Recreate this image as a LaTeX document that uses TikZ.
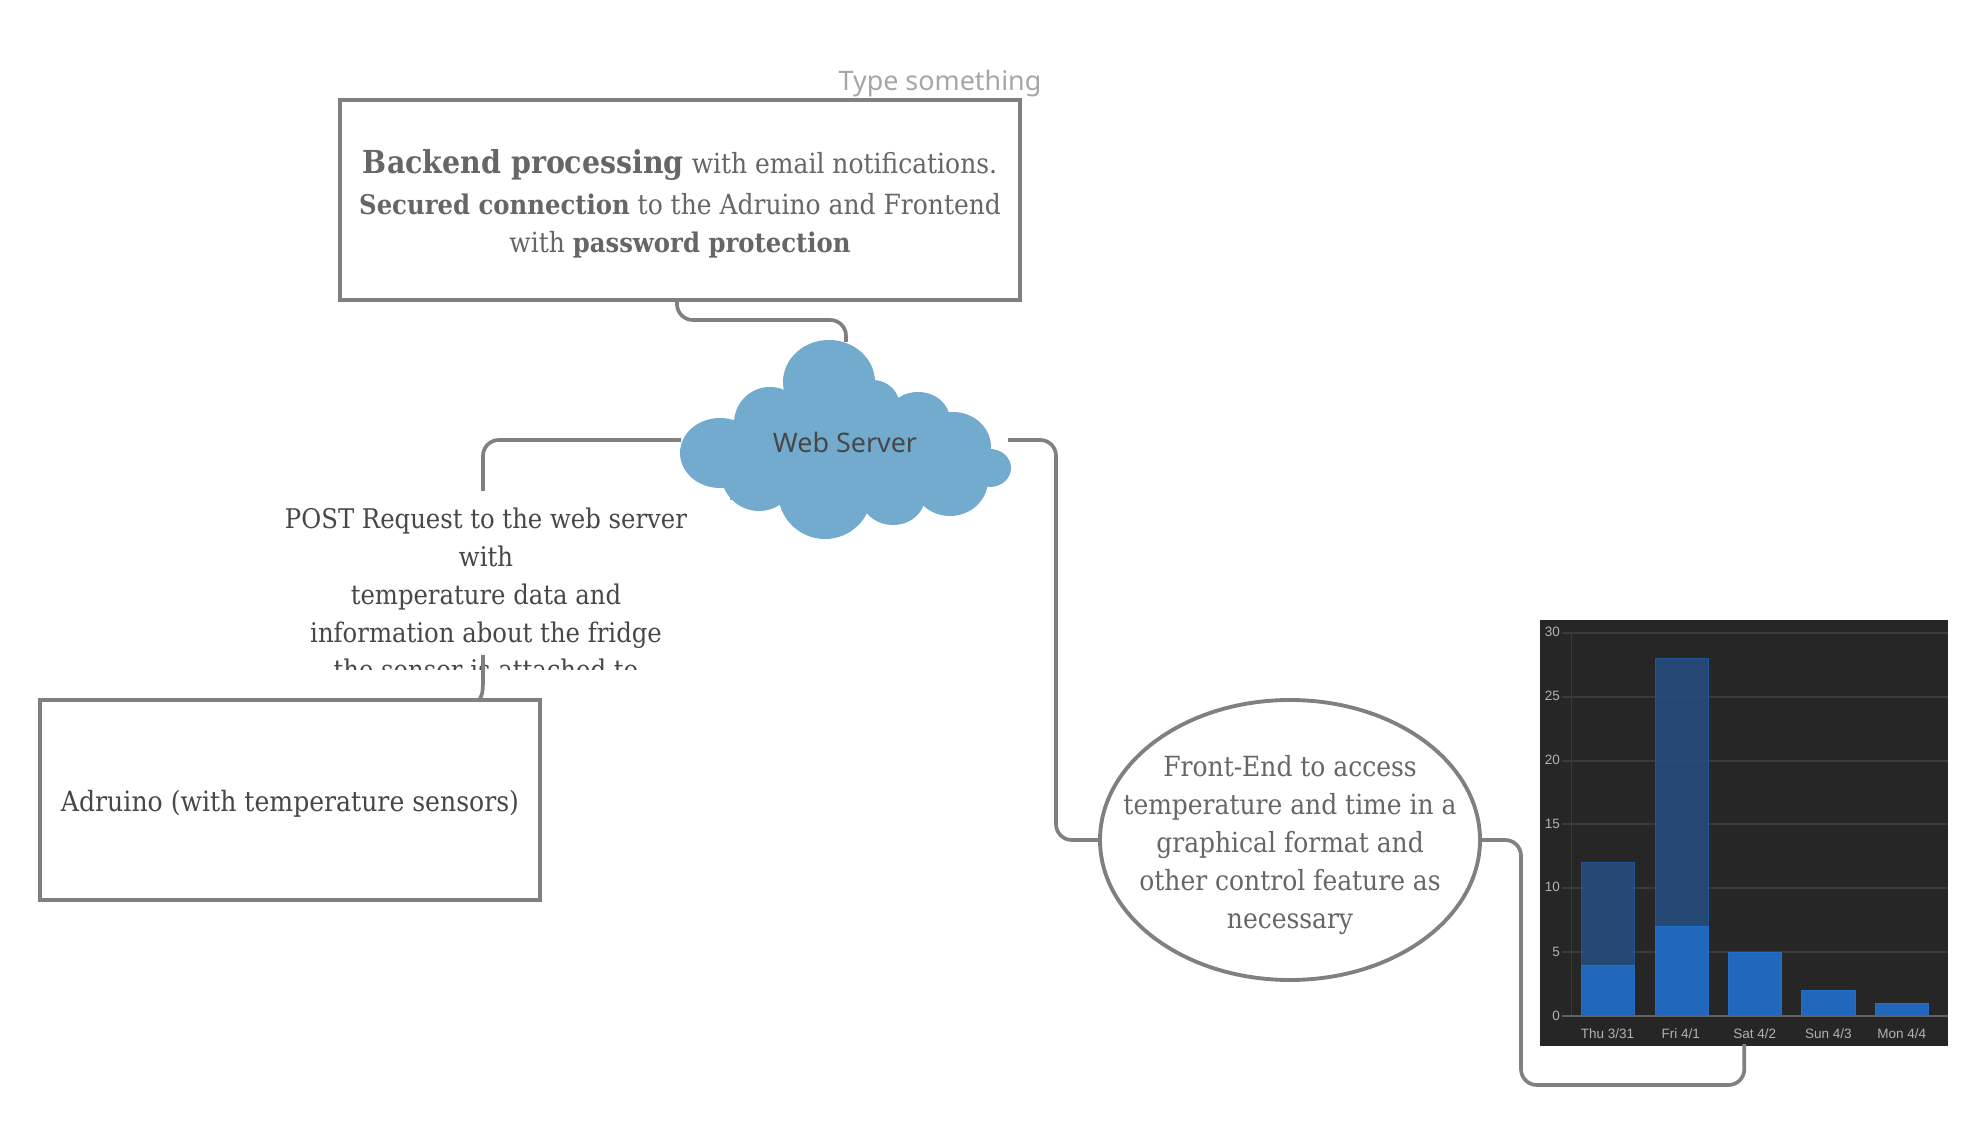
\documentclass[tikz,border=0pt]{standalone}
\usepackage{fontspec}
\setmainfont{DejaVu Serif Condensed}
\newfontfamily\websans{Noto Sans}
\newfontfamily\chartsans{Liberation Sans}
\usetikzlibrary{shapes,calc}
\definecolor{linegray}{HTML}{808080}
\definecolor{cloudblue}{HTML}{72ABCD}
\definecolor{chartbg}{HTML}{262626}
\definecolor{gridgray}{HTML}{3A3A3A}
\definecolor{baredark}{HTML}{254B7C}
\definecolor{baredge}{HTML}{1F5596}
\definecolor{barelight}{HTML}{2168BD}
\definecolor{barlightedge}{HTML}{2470C8}
\tikzset{
	box/.style={rectangle,draw=linegray,line width=1.05pt,fill=white,inner sep=0,outer sep=0,minimum width=68mm,minimum height=20mm},
	oval/.style={ellipse,draw=linegray,line width=1.1pt,fill=white,inner sep=0,outer sep=0,minimum width=38mm,minimum height=28mm},
	link/.style={draw=linegray,line width=1.05pt,rounded corners=4.5pt},
	body/.style={font=\fontsize{7.9}{10.8}\selectfont,text=black!72,align=center,inner sep=0},
	sanslabel/.style={font=\websans\fontsize{7.65}{10}\selectfont},
	lobe/.style={fill=cloudblue},
	chartnum/.style={font=\chartsans\fontsize{3.85}{4}\selectfont,text=black!30,inner sep=0},
	grid/.style={draw=gridgray,line width=.3pt},
	darkbar/.style={fill=baredark,fill opacity=.9,draw=baredge,line width=.25pt},
	lightbar/.style={fill=barelight,draw=barlightedge,line width=.25pt}
}
\newcommand{\boldpart}[1]{{\fontsize{7.7}{10.8}\selectfont\bfseries #1}}
\begin{document}
\begin{tikzpicture}[x=0.1mm,y=-0.1mm]
		\useasboundingbox (0,0) rectangle (1988,1126);
		%%%hint text
		\node[sanslabel,text=black!35] (hint) at (940,84) {Type something};
		
		%%%backend
		\node[box] (backend) at (680,200) {};
		\node[body,text=black!60] (backendtext) at (680,204) {{\fontsize{9}{10.8}\selectfont\bfseries Backend processing} with email notifications.\\[1pt]\boldpart{Secured connection} to the Adruino and Frontend\\with \boldpart{password protection}};
		
		%%%cloud
		\fill[lobe] (720,453) ellipse (40 and 35);
		\fill[lobe] (770,423) ellipse (36 and 36);
		\fill[lobe] (829,382) ellipse (46 and 42);
		\fill[lobe] (873,407) ellipse (27 and 27);
		\fill[lobe] (918,420) ellipse (32 and 28);
		\fill[lobe] (953,447) ellipse (38 and 35);
		\fill[lobe] (990,468) ellipse (21 and 19);
		\fill[lobe] (950,480) ellipse (38 and 36);
		\fill[lobe] (893,497) ellipse (32 and 28);
		\fill[lobe] (825,492) ellipse (47 and 47);
		\fill[lobe] (759,473) ellipse (38 and 38);
		\fill[lobe] (730,420) rectangle (960,500);
		\fill[lobe] (830,430) ellipse (60 and 40);
		\node[sanslabel,text=black!72] (server) at (845,442) {Web Server};
		\coordinate (servertop) at (846,342);
		\coordinate (serverleft) at (681,440);
		\coordinate (serverright) at (1008,440);
		
		%%%post request
		\begin{scope}
			\clip (240,480) rectangle (760,670);
			\node[body,font=\fontsize{7.7}{10.8}\selectfont] (post) at (486,594) {POST Request to the web server\\with\\temperature data and\\information about the fridge\\the sensor is attached to};
		\end{scope}
		\coordinate (posttop) at (483,491);
		\coordinate (postlow) at (483,655);
		
		%%%adruino
		\node[box,minimum width=50mm] (adruino) at (290,800) {};
		\node[body,font=\fontsize{7.95}{10.8}\selectfont] (adruinotext) at (290,804) {Adruino (with temperature sensors)};
		\coordinate (adruinotop) at (479,700);
		
		%%%front end
		\node[oval] (front) at (1290,840) {};
		\node[body,text=black!60] (fronttext) at (1290,845) {Front-End to access\\temperature and time in a\\graphical format and\\other control feature as\\necessary};
		
		%%%chart
		\node[rectangle,fill=chartbg,inner sep=0,outer sep=0,minimum width=40.8mm,minimum height=42.6mm] (chart) at (1744,833) {};
		\draw[grid] (1562,633) -- (1948,633);
		\draw[grid] (1562,697) -- (1948,697);
		\draw[grid] (1562,761) -- (1948,761);
		\draw[grid] (1562,824) -- (1948,824);
		\draw[grid] (1562,888) -- (1948,888);
		\draw[grid] (1562,952) -- (1948,952);
		\draw[grid] (1571.7,633) -- (1571.7,1016);
		\draw[darkbar] (1581.7,862.7) rectangle (1634.3,965);
		\draw[darkbar] (1655,658.3) rectangle (1708,926.7);
		\draw[lightbar] (1581.7,965) rectangle (1634.3,1015.7);
		\draw[lightbar] (1655,926.7) rectangle (1708,1015.7);
		\draw[lightbar] (1728,952) rectangle (1781.7,1015.7);
		\draw[lightbar] (1801.7,990.7) rectangle (1855,1015.7);
		\draw[lightbar] (1875,1003) rectangle (1928,1015.7);
		\draw[grid,draw=black!62] (1562,1016) -- (1948,1016);
		\node[chartnum,anchor=east] (y30) at (1560.5,632) {30};
		\node[chartnum,anchor=east] (y25) at (1560.5,696) {25};
		\node[chartnum,anchor=east] (y20) at (1560.5,760) {20};
		\node[chartnum,anchor=east] (y15) at (1560.5,824) {15};
		\node[chartnum,anchor=east] (y10) at (1560.5,887) {10};
		\node[chartnum,anchor=east] (y5) at (1560.5,952) {5};
		\node[chartnum,anchor=east] (y0) at (1560.5,1015.5) {0};
		\node[chartnum] (thu) at (1607.5,1034) {Thu 3/31};
		\node[chartnum] (fri) at (1680.7,1034) {Fri 4/1};
		\node[chartnum] (sat) at (1754.7,1034) {Sat 4/2};
		\node[chartnum] (sun) at (1828.3,1034) {Sun 4/3};
		\node[chartnum] (mon) at (1901.7,1034) {Mon 4/4};
		\coordinate (chartlow) at (1744.3,1044);
		
		%%%links
		\draw[link] (677,300) -- (677,320) -- (846,320) -- (servertop);
		\draw[link] (serverleft) -- (posttop |- serverleft) -- (posttop);
		\draw[link,rounded corners=0] (postlow) -- (483,680) .. controls (483,692) and (482,696) .. (adruinotop);
		\draw[link] (serverright) -- (1056,440) -- (1056,840) -- (front.west);
		\draw[link] (front.east) -- (1521,840) -- (1521,1085) -- (1744.3,1085) -- (chartlow);
\end{tikzpicture}
\end{document}
